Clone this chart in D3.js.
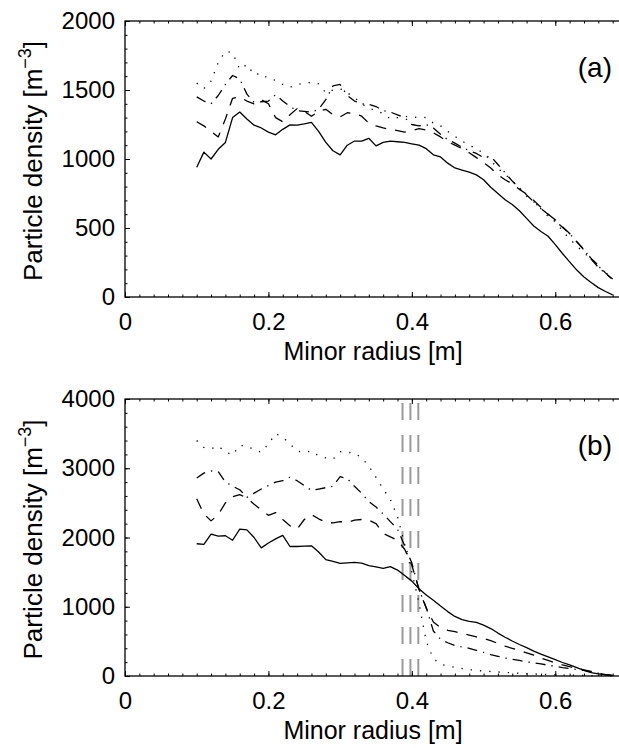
<!DOCTYPE html>
<html>
<head>
<meta charset="utf-8">
<script src="https://cdn.jsdelivr.net/npm/d3@7"></script>
<style>
  body { margin: 0; background: #fff; }
  text { font-family: "Liberation Sans", Arial, sans-serif; fill: #000; }
</style>
</head>
<body>
<svg id="fig" width="619" height="748"></svg>
<script>
// Minor radius samples [m]
const radius = [0.10,0.11,0.12,0.13,0.14,0.15,0.16,0.17,0.18,0.19,
  0.20,0.21,0.22,0.23,0.24,0.25,0.26,0.27,0.28,0.29,
  0.30,0.31,0.32,0.33,0.34,0.35,0.36,0.37,0.38,0.39,
  0.40,0.41,0.42,0.43,0.44,0.45,0.46,0.47,0.48,0.49,
  0.50,0.51,0.52,0.53,0.54,0.55,0.56,0.57,0.58,0.59,
  0.60,0.61,0.62,0.63,0.64,0.65,0.66,0.67,0.68];

// Panel (a)
const aSolid = [940,1050,1000,1070,1120,1300,1340,1290,1245,1225,
  1195,1175,1215,1247,1245,1254,1265,1200,1120,1060,
  1030,1100,1130,1130,1150,1095,1120,1130,1125,1120,
  1110,1100,1075,1030,1015,970,935,920,905,885,
  850,795,750,705,670,625,570,515,475,440,
  380,315,255,195,145,105,68,40,15];
const aDashed = [1270,1240,1200,1160,1290,1440,1450,1420,1400,1430,
  1400,1300,1270,1320,1365,1345,1310,1345,1360,1320,
  1305,1335,1330,1310,1260,1240,1225,1215,1205,1195,
  1205,1220,1210,1190,1160,1125,1100,1075,1045,1010,
  975,935,885,850,820,780,745,700,650,600,
  560,510,460,400,340,280,230,175,125];
const aDashDot = [1450,1420,1400,1460,1540,1605,1580,1470,1410,1415,
  1420,1465,1420,1380,1350,1345,1340,1360,1430,1530,
  1540,1460,1420,1400,1395,1380,1350,1340,1320,1300,
  1250,1240,1250,1225,1180,1140,1115,1085,1060,1040,
  1010,1020,960,900,840,790,740,690,640,600,
  550,505,460,400,345,275,215,170,130];
const aDotted = [1550,1510,1565,1700,1780,1770,1650,1685,1610,1620,
  1580,1570,1540,1520,1540,1550,1555,1545,1480,1500,
  1510,1480,1445,1400,1370,1350,1330,1290,1300,1310,
  1300,1305,1300,1260,1240,1200,1165,1130,1100,1075,
  1040,990,930,890,840,790,730,690,640,585,
  545,480,420,370,320,275,225,175,150];

// Panel (b)
const bSolid = [1910,1900,2050,2020,2025,1960,2120,2110,2000,1850,
  1920,1980,2030,1870,1870,1875,1880,1790,1680,1655,
  1625,1635,1640,1630,1595,1575,1555,1580,1530,1450,
  1370,1260,1170,1095,1010,930,860,815,790,775,
  735,685,620,560,505,455,410,360,315,275,
  235,195,160,120,80,50,30,15,5];
const bDashed = [2560,2340,2240,2330,2500,2590,2620,2570,2480,2400,
  2320,2360,2260,2170,2120,2260,2330,2270,2220,2210,
  2230,2220,2250,2260,2250,2200,2060,2010,1960,1830,
  1600,1250,980,780,700,660,640,615,590,565,
  545,510,470,430,400,370,335,300,260,225,
  190,160,135,110,90,65,40,20,8];
const bDashDot = [2860,2930,2960,2950,2800,2740,2690,2580,2640,2700,
  2750,2800,2820,2870,2820,2750,2680,2700,2720,2740,
  2880,2850,2740,2640,2520,2440,2340,2230,2120,1880,
  1630,1250,990,650,530,480,440,420,400,370,
  340,310,285,260,240,225,205,190,175,155,
  140,120,110,95,80,60,40,20,8];
const bDotted = [3400,3300,3280,3320,3240,3190,3330,3320,3270,3230,
  3350,3500,3450,3350,3250,3230,3250,3180,3150,3130,
  3240,3230,3220,3150,3030,2870,2700,2550,2300,1900,
  1500,1050,500,250,170,145,125,108,92,80,
  72,65,58,52,46,40,35,30,25,20,
  17,14,12,10,8,6,5,4,3];

// vertical markers in (b)
const markers = [0.387, 0.398, 0.409];

const xTicks = [0, 0.2, 0.4, 0.6];
const yTicksA = [0, 500, 1000, 1500, 2000];
const yTicksB = [0, 1000, 2000, 3000, 4000];

const styles = {
  solid: null,
  dashed: "11,9",
  dashdot: "10,6,1.3,6",
  dotted: "1.3,8"
};

const svg = d3.select("#fig");
const left = 125, right = 627;

const x = d3.scaleLinear().domain([0, 0.7]).range([left, right]);

function drawPanel(top, bottom, ymax, yTicks, yMinor, series, label, vlines) {
  const y = d3.scaleLinear().domain([0, ymax]).range([bottom, top]);
  const g = svg.append("g");

  // gray dashed verticals
  g.selectAll("line.vl")
    .data(vlines)
    .enter()
    .append("line")
    .attr("x1", d => x(d)).attr("x2", d => x(d))
    .attr("y1", top).attr("y2", bottom)
    .attr("stroke", "#9a9a9a")
    .attr("stroke-width", 2)
    .attr("stroke-dasharray", "17,15")
    .attr("stroke-dashoffset", -4);

  const line = d3.line()
    .x((d, i) => x(radius[i]))
    .y(d => y(d));

  g.selectAll("path.s")
    .data(series)
    .enter()
    .append("path")
    .attr("d", d => line(d.values))
    .attr("fill", "none")
    .attr("stroke", "#000")
    .attr("stroke-width", 1.3)
    .attr("stroke-linejoin", "round")
    .attr("stroke-dasharray", d => styles[d.style]);

  // minor ticks
  const minorX = d3.range(0, 0.7001, 0.02);
  const minorY = d3.range(0, ymax + 1, yMinor);
  g.append("g").attr("transform", `translate(0,${bottom})`)
    .call(d3.axisBottom(x).tickValues(minorX).tickSize(-2.5).tickFormat(""));
  g.append("g").attr("transform", `translate(0,${top})`)
    .call(d3.axisTop(x).tickValues(minorX).tickSize(-2.5).tickFormat(""));
  g.append("g").attr("transform", `translate(${left},0)`)
    .call(d3.axisLeft(y).tickValues(minorY).tickSize(-2.5).tickFormat(""));

  // major ticks + labels
  g.append("g").attr("transform", `translate(0,${bottom})`)
    .call(d3.axisBottom(x).tickValues(xTicks).tickSize(-5).tickPadding(16)
      .tickFormat(d => d === 0 ? "0" : d3.format(".1f")(d)));
  g.append("g").attr("transform", `translate(0,${top})`)
    .call(d3.axisTop(x).tickValues(xTicks).tickSize(-5).tickFormat(""));
  g.append("g").attr("transform", `translate(${left},0)`)
    .call(d3.axisLeft(y).tickValues(yTicks).tickSize(-5).tickPadding(10).tickFormat(d3.format("d")));

  g.selectAll(".domain").remove();
  g.selectAll(".tick line").attr("stroke", "#000").attr("stroke-width", 1);
  g.selectAll(".tick text").style("font-size", "24px");

  // frame
  g.append("rect")
    .attr("x", left).attr("y", top)
    .attr("width", right - left).attr("height", bottom - top)
    .attr("fill", "none")
    .attr("stroke", "#000")
    .attr("stroke-width", 1.3);

  g.append("text")
    .attr("x", (left + right) / 2 - 3)
    .attr("y", bottom + 63)
    .attr("text-anchor", "middle")
    .style("font-size", "25px")
    .text("Minor radius [m]");

  const yl = g.append("text")
    .attr("transform", `translate(42,${(top + bottom) / 2 + 2}) rotate(-90)`)
    .attr("text-anchor", "middle")
    .style("font-size", "26px");
  yl.append("tspan").text("Particle density [m");
  yl.append("tspan").attr("dy", -11).style("font-size", "18px").text("\u22123");
  yl.append("tspan").attr("dy", 11).text("]");

  g.append("text")
    .attr("x", 612)
    .attr("y", top + 56)
    .attr("text-anchor", "end")
    .style("font-size", "28px")
    .text(label);
}

drawPanel(21, 297, 2000, yTicksA, 100, [
  { style: "solid", values: aSolid },
  { style: "dashed", values: aDashed },
  { style: "dashdot", values: aDashDot },
  { style: "dotted", values: aDotted }
], "(a)", []);

drawPanel(399, 676, 4000, yTicksB, 200, [
  { style: "solid", values: bSolid },
  { style: "dashed", values: bDashed },
  { style: "dashdot", values: bDashDot },
  { style: "dotted", values: bDotted }
], "(b)", markers);
</script>
</body>
</html>
